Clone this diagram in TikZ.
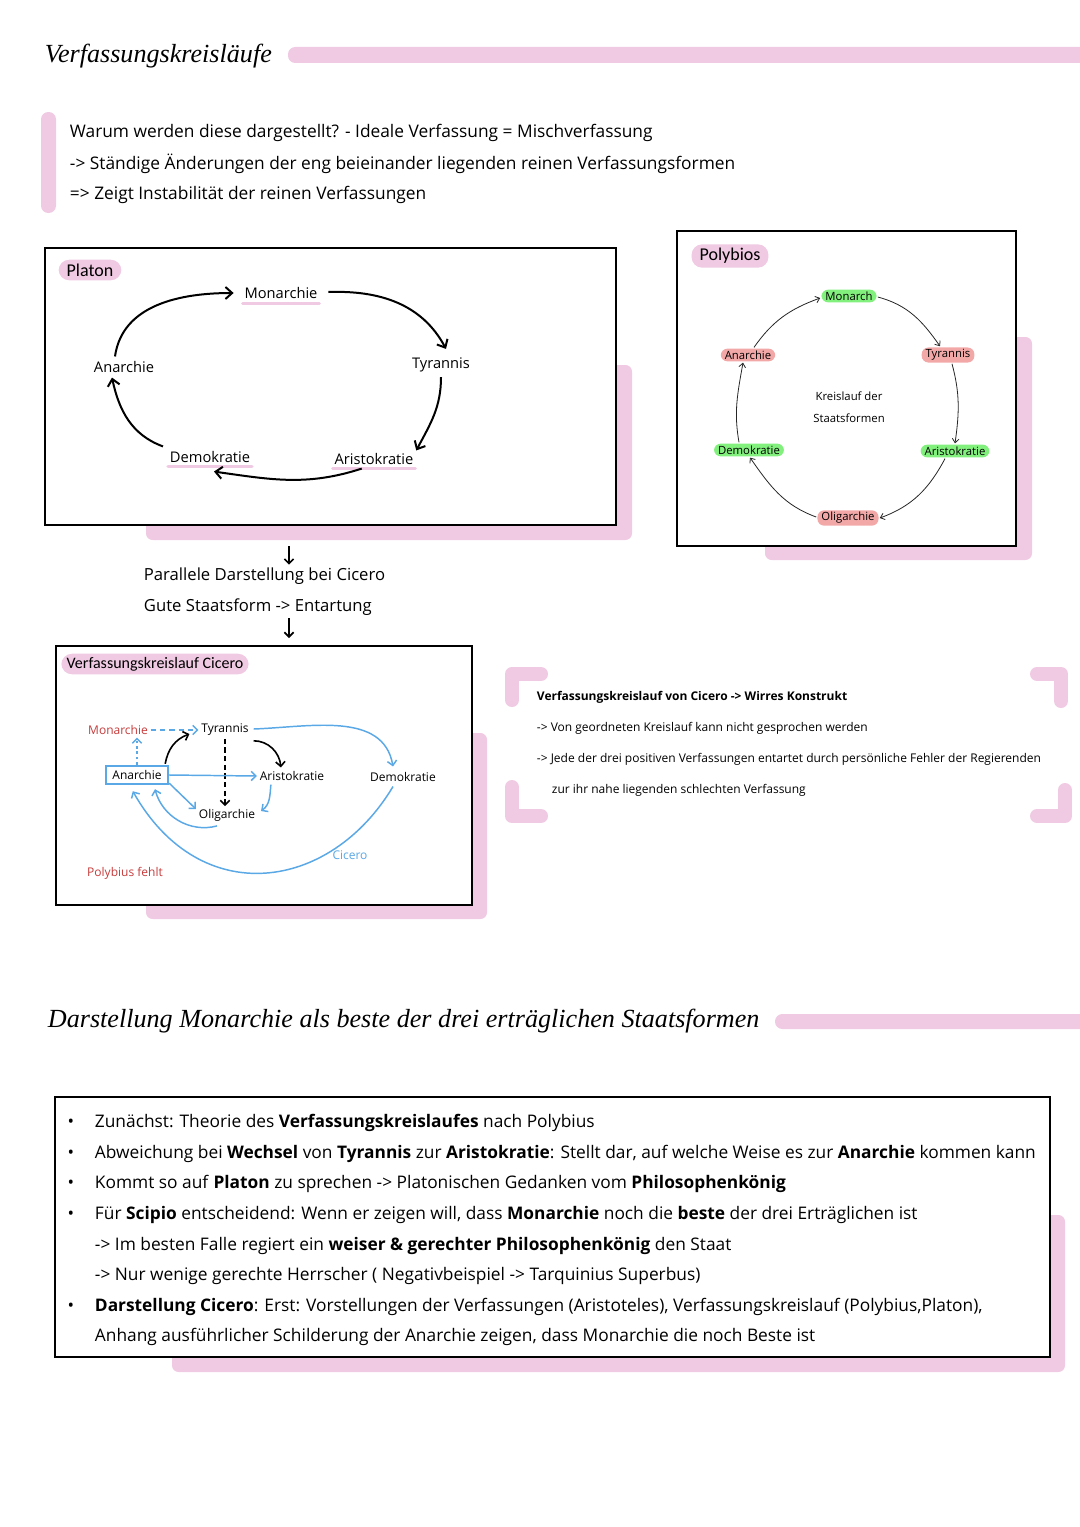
\documentclass[tikz,border=0pt]{standalone}
\usepackage{fontspec}
\setmainfont{Open Sans}
\newfontfamily\titlefont{Liberation Serif}
\newfontfamily\handfont{Carlito}
\usetikzlibrary{arrows.meta,calc}
\definecolor{pinkc}{RGB}{240,202,226}
\definecolor{greenc}{RGB}{130,240,125}
\definecolor{redc}{RGB}{243,168,168}
\definecolor{bluec}{RGB}{90,168,230}
\definecolor{redtext}{RGB}{200,60,60}
\newcommand{\fsz}[2]{\fontsize{#1pt}{#2pt}\selectfont}
\begin{document}
\begin{tikzpicture}[x=0.75pt,y=-0.75pt,
  every node/.style={inner sep=2pt},
  titletext/.style={anchor=west,font=\titlefont\itshape\fsz{19.6}{22}},
  maintext/.style={anchor=west,font=\fsz{13}{15}},
  pill/.style={fill=pinkc,rounded corners=8pt,inner xsep=6pt,inner ysep=3pt,font=\handfont\fsz{13.5}{15}},
  frame/.style={draw=black,line width=1.5pt,fill=white},
  shadow/.style={fill=pinkc,rounded corners=5pt},
  pbar/.style={fill=pinkc,rounded corners=5.5pt},
  uline/.style={draw=pinkc,line width=2.4pt,line cap=round},
  plnode/.style={font=\fsz{11}{13}},
  plarrow/.style={draw=black,line width=1.5pt,-{Straight Barb[length=5pt,width=9pt,line width=1.5pt]}},
  pnode/.style={rounded corners=5pt,inner xsep=3pt,inner ysep=1.5pt,font=\fsz{8.5}{10}},
  parrow/.style={draw=black!85,line width=0.6pt,-{Straight Barb[length=3pt,width=5pt]}},
  cnode/.style={font=\fsz{9}{11}},
  barrow/.style={draw=bluec,line width=1.1pt,-{Straight Barb[length=3.5pt,width=7pt,line width=1.1pt]}},
  karrow/.style={draw=black,line width=1.2pt,-{Straight Barb[length=3.5pt,width=7pt,line width=1.2pt]}},
  marrow/.style={draw=black,line width=1.2pt,-{Straight Barb[length=3.5pt,width=7pt,line width=1.2pt]}},
  bracket/.style={draw=pinkc,line width=10.5pt,line cap=round,line join=round},
  rtext/.style={anchor=west,font=\fsz{9}{11}},
  btext/.style={anchor=west,font=\fsz{13}{15}},
  bullet/.style={font=\fsz{13}{14}}
]
\useasboundingbox (0,0) rectangle (1080,1527);
\fill[white] (0,0) rectangle (1080,1527);

% ---------- Title 1 ----------
\node[titletext] (t1) at (42,56) {Verfassungskreisläufe};
\fill[pbar] (288,47) rectangle (1100,63);

\fill[pbar] (41,112) rectangle (56,213);
\node[maintext] (l1) at (67,133) {Warum werden diese dargestellt? - Ideale Verfassung = Mischverfassung};
\node[maintext] (l2) at (67,164) {-> Ständige Änderungen der eng beieinander liegenden reinen Verfassungsformen};
\node[maintext] (l3) at (67,195) {=> Zeigt Instabilität der reinen Verfassungen};

% ---------- Platon ----------
\fill[shadow] (146,365) rectangle (632,540);
\draw[frame] (45,248) rectangle (616,525);
\node[pill] (plab) at (90,270) {Platon};
\node[plnode] (Mon) at (281,293) {Monarchie};
\node[plnode] (Ana) at (124,367) {Anarchie};
\node[plnode] (Tyr) at (441,365) {Tyrannis};
\node[plnode] (Ari) at (374,459) {Aristokratie};
\node[plnode] (Dem) at (210,457) {Demokratie};
\draw[uline] ($(Mon.south west)+(1,2)$) -- ($(Mon.south east)+(-1,2)$);
\draw[uline] ($(Ari.south west)+(1,1)$) -- ($(Ari.south east)+(-1,1)$);
\draw[uline] ($(Dem.south west)+(1,1)$) -- ($(Dem.south east)+(-1,1)$);
\draw[plarrow] ($(Ana.north)+(-9,-2)$) to[out=82,in=180] ($(Mon.west)+(-8,0)$);
\draw[plarrow] ($(Mon.east)+(8,-1)$) to[out=2,in=118] ($(Tyr.north)+(5,-6)$);
\draw[plarrow] ($(Tyr.south)+(0,2)$) to[out=-90,in=62] ($(Ari.north east)+(0,0)$);
\draw[plarrow] ($(Ari.south west)+(30,1)$) to[out=-162,in=-8] ($(Dem.south)+(4,6)$);
\draw[plarrow] ($(Dem.north west)+(-4,-2)$) to[out=160,in=-78] ($(Ana.south)+(-12,2)$);

% ---------- Polybios ----------
\fill[shadow] (765,337) rectangle (1032,560);
\draw[frame] (677,231) rectangle (1016,546);
\node[pill] (polab) at (730,256) {Polybios};
\node[pnode,fill=greenc] (PMon) at (849,296) {Monarch};
\node[pnode,fill=redc] (PTyr) at (948,355) {Tyrannis};
\node[pnode,fill=greenc] (PAri) at (955,451) {Aristokratie};
\node[pnode,fill=redc] (POli) at (848,518) {Oligarchie};
\node[pnode,fill=greenc] (PDem) at (749,450) {Demokratie};
\node[pnode,fill=redc] (PAna) at (748,355) {Anarchie};
\node[align=center,font=\fsz{8.5}{16.5}] (PCen) at (849,407) {Kreislauf der\\Staatsformen};
\draw[parrow] ($(PAna.north)+(6,-1)$) to[out=55,in=200] ($(PMon.west)+(-1,2)$);
\draw[parrow] ($(PMon.east)+(1,1)$) to[out=-15,in=125] ($(PTyr.north)+(-8,-1)$);
\draw[parrow] ($(PTyr.south)+(4,1)$) to[out=-75,in=82] ($(PAri.north)+(0,-1)$);
\draw[parrow] ($(PAri.south)+(-10,1)$) to[out=-118,in=20] ($(POli.east)+(1,0)$);
\draw[parrow] ($(POli.west)+(-1,-1)$) to[out=160,in=-55] ($(PDem.south)+(1,1)$);
\draw[parrow] ($(PDem.north)+(-10,-1)$) to[out=100,in=-100] ($(PAna.south)+(-5,1)$);

% ---------- middle ----------
\node[anchor=west,font=\fsz{12.5}{14}] (par) at (141,576) {Parallele Darstellung bei Cicero};
\node[anchor=west,font=\fsz{12.5}{14}] (gute) at (141,607) {Gute Staatsform -> Entartung};
\coordinate (a1s) at (289,546);
\coordinate (a2e) at (289,638);
\draw[marrow] (a1s) -- (a1s |- par.north);
\draw[marrow] (a2e |- gute.south) -- (a2e);

% ---------- Cicero ----------
\fill[shadow] (146,733) rectangle (487,919);
\draw[frame] (56,646) rectangle (472,905);
\node[pill,font=\handfont\fsz{12}{13},inner xsep=4pt,inner ysep=2.5pt] (clab) at (155,664) {Verfassungskreislauf Cicero};
\node[cnode,text=redtext] (CMon) at (118,730) {Monarchie};
\node[cnode] (CTyr) at (225,730) {Tyrannis};
\node[cnode,draw=bluec,line width=1.3pt,minimum width=47pt,minimum height=14pt] (CAna) at (137,775) {Anarchie};
\node[cnode] (CAri) at (292,776) {Aristokratie};
\node[cnode] (CDem) at (403,777) {Demokratie};
\node[cnode] (COli) at (227,815) {Oligarchie};
\node[cnode,text=bluec] (CCic) at (350,855) {Cicero};
\node[cnode,text=redtext] (CPol) at (125,873) {Polybius fehlt};
\draw[barrow,dash pattern=on 4pt off 3pt] (CMon.east) -- (CTyr.west);
\draw[barrow,dash pattern=on 2pt off 2pt] (CAna.north) -- (CAna.north |- CMon.south);
\draw[karrow] ($(CAna.north east)+(-4,-1)$) to[out=80,in=200] ($(CTyr.west)+(-9,4)$);
\draw[karrow] ($(CTyr.south east)+(2,2)$) to[out=0,in=95] ($(CAri.north west)+(24,-1)$);
\draw[karrow,dash pattern=on 4pt off 2.5pt] (CTyr.south) -- (CTyr.south |- COli.north);
\draw[barrow] (CAna.east) -- (CAri.west);
\draw[barrow] ($(CAna.south east)+(0,-2)$) -- ($(COli.north west)+(0,3)$);
\draw[barrow] ($(CAri.south west)+(14,1)$) to[out=-95,in=35] ($(COli.east)+(3,-4)$);
\draw[barrow] ($(COli.south)+(-10,2)$) to[out=195,in=-75] ($(CAna.south)+(18,4)$);
\draw[barrow] ($(CTyr.east)+(2,-1)$) to[out=2,in=100] ($(CDem.north)+(-10,-3)$);
\draw[barrow] ($(CDem.south)+(-10,2)$) .. controls (330,892) and (200,910) .. ($(CAna.south west)+(28,6)$);

% ---------- right text ----------
\draw[bracket] (512,700) -- (512,674) -- (541,674);
\draw[bracket] (1037,674) -- (1061,674) -- (1061,701);
\draw[bracket] (512,787) -- (512,816) -- (541,816);
\draw[bracket] (1065,790) -- (1065,816) -- (1037,816);
\node[rtext,font=\bfseries\fsz{9}{11}] (r1) at (534,697) {Verfassungskreislauf von Cicero -> Wirres Konstrukt};
\node[rtext] (r2) at (534,728) {-> Von geordneten Kreislauf kann nicht gesprochen werden};
\node[rtext] (r3) at (534,759) {-> Jede der drei positiven Verfassungen entartet durch persönliche Fehler der Regierenden};
\node[rtext] (r4) at (549,790) {zur ihr nahe liegenden schlechten Verfassung};

% ---------- Title 2 ----------
\node[titletext] (t2) at (45,1021) {Darstellung Monarchie als beste der drei erträglichen Staatsformen};
\fill[pbar] (775,1014) rectangle (1100,1029);

% ---------- bottom box ----------
\fill[shadow] (172,1215) rectangle (1065,1372);
\draw[frame] (55,1097) rectangle (1050,1357);
\foreach \yy [count=\i] in {1123,1154,1184,1215,1307} {
  \node[bullet] (bu\i) at (71,\yy) {•};
}
\node[btext] (b1) at (92,1123) {Zunächst: Theorie des \textbf{Verfassungskreislaufes} nach Polybius};
\node[btext] (b2) at (92,1154) {Abweichung bei \textbf{Wechsel} von \textbf{Tyrannis} zur \textbf{Aristokratie}: Stellt dar, auf welche Weise es zur \textbf{Anarchie} kommen kann};
\node[btext] (b3) at (92,1184) {Kommt so auf \textbf{Platon} zu sprechen -> Platonischen Gedanken vom \textbf{Philosophenkönig}};
\node[btext] (b4) at (92,1215) {Für \textbf{Scipio} entscheidend: Wenn er zeigen will, dass \textbf{Monarchie} noch die \textbf{beste} der drei Erträglichen ist};
\node[btext] (b5) at (92,1246) {-> Im besten Falle regiert ein \textbf{weiser \& gerechter Philosophenkönig} den Staat};
\node[btext] (b6) at (92,1276) {-> Nur wenige gerechte Herrscher ( Negativbeispiel -> Tarquinius Superbus)};
\node[btext] (b7) at (92,1307) {\textbf{Darstellung Cicero}: Erst: Vorstellungen der Verfassungen (Aristoteles), Verfassungskreislauf (Polybius,Platon),};
\node[btext] (b8) at (92,1337) {Anhang ausführlicher Schilderung der Anarchie zeigen, dass Monarchie die noch Beste ist};
\end{tikzpicture}
\end{document}
